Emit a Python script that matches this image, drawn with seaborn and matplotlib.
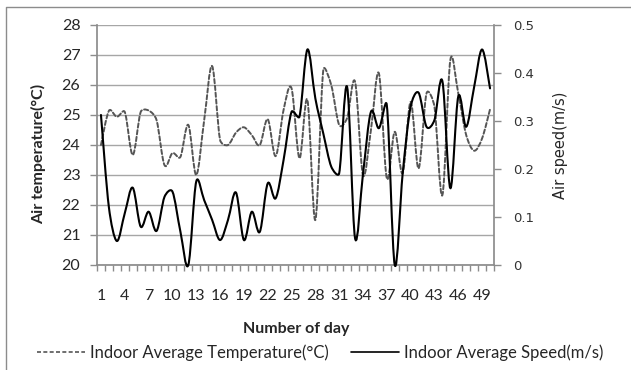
import numpy as np
import pandas as pd
import matplotlib
matplotlib.use("Agg")
import matplotlib.pyplot as plt
import seaborn as sns
from matplotlib.path import Path
from matplotlib.patches import PathPatch
from matplotlib.lines import Line2D
from matplotlib.transforms import IdentityTransform
from matplotlib.ticker import FixedLocator, NullFormatter

# ---- data ----
days = list(range(1, 51))
temperature = [24.0, 25.14, 24.94, 25.1, 23.67, 25.1, 25.15, 24.83, 23.33, 23.73,
               23.6, 24.67, 23.0, 24.83, 26.63, 24.17, 24.0, 24.41, 24.59, 24.33,
               24.0, 24.86, 23.63, 25.17, 25.89, 23.56, 25.5, 21.5, 26.5, 26.0,
               24.67, 24.9, 26.11, 23.0, 24.5, 26.39, 22.89, 24.44, 23.06, 25.44,
               23.22, 25.72, 25.28, 22.33, 26.83, 25.72, 24.33, 23.81, 24.22, 25.19]
speed = [0.3125, 0.12, 0.05, 0.108, 0.161, 0.08, 0.111, 0.071, 0.142, 0.153,
         0.07, 0.0, 0.174, 0.135, 0.094, 0.052, 0.094, 0.151, 0.052, 0.111,
         0.069, 0.17, 0.139, 0.219, 0.319, 0.309, 0.449, 0.347, 0.274, 0.205,
         0.191, 0.371, 0.056, 0.19, 0.319, 0.285, 0.333, 0.0, 0.191, 0.33,
         0.359, 0.288, 0.302, 0.383, 0.16, 0.351, 0.288, 0.371, 0.449, 0.368]
temp_ticks = [20, 21, 22, 23, 24, 25, 26, 27, 28]
speed_ticks = [0, 0.1, 0.2, 0.3, 0.4, 0.5]
speed_tick_labels = ["0", "0.1", "0.2", "0.3", "0.4", "0.5"]
temp_label = "Indoor Average Temperature(°C)"
speed_label = "Indoor Average Speed(m/s)"

df = pd.DataFrame({"idx": np.arange(len(days)), "day": days,
                   "temperature": temperature, "speed": speed})

sns.set_theme(style="white")
plt.rcParams["font.family"] = ["Lato", "DejaVu Sans"]

W, H = 631, 370
fig = plt.figure(figsize=(W / 100, H / 100), dpi=100)
ax = fig.add_axes([97 / W, 1 - 265 / H, (494 - 97) / W, (265 - 25) / H])
ax2 = ax.twinx()

GRID = "#a6a6a6"
AXC = "#8c8c8c"
DASH_C = "#555555"
DASH = (0, (2.2, 1.3))

sns.lineplot(data=df, x="idx", y="temperature", ax=ax, color=DASH_C, lw=1.4)
sns.lineplot(data=df, x="idx", y="speed", ax=ax2, color="black", lw=1.5)

ax.set_xlim(-0.5, len(days) - 0.5)
ax.set_ylim(20, 28)
ax2.set_ylim(0, 0.5)


def smooth(line, axis, **kw):
    # Excel-like smoothed line: Catmull-Rom Bezier arms, limited on short segments
    pts = axis.transData.transform(line.get_xydata())
    n = len(pts)
    verts = [pts[0]]
    codes = [Path.MOVETO]

    def arm(i, L):
        a = pts[max(i - 1, 0)]
        b = pts[min(i + 1, n - 1)]
        d = (b - a) / 6.0
        m = np.hypot(*d)
        lim = 0.45 * L
        return d * (lim / m) if m > lim else d

    for i in range(n - 1):
        p1, p2 = pts[i], pts[i + 1]
        L = np.hypot(*(p2 - p1))
        verts += [p1 + arm(i, L), p2 - arm(i + 1, L), p2]
        codes += [Path.CURVE4] * 3
    line.set_visible(False)
    patch = PathPatch(Path(verts, codes), fill=False, transform=IdentityTransform(),
                      capstyle="round", joinstyle="round", clip_on=False, **kw)
    axis.add_artist(patch)


smooth(ax.lines[0], ax, edgecolor=DASH_C, lw=1.4, linestyle=DASH, zorder=3)
smooth(ax2.lines[0], ax2, edgecolor="black", lw=1.5, zorder=4)

ax.set_yticks(temp_ticks)
ax.set_yticklabels([str(t) for t in temp_ticks])
ax2.set_yticks(speed_ticks)
ax2.set_yticklabels(speed_tick_labels, family="DejaVu Sans")

ax.set_xticks(df["idx"].values[::3])
ax.set_xticklabels([str(d) for d in days[::3]])
ax.xaxis.set_minor_locator(FixedLocator(np.arange(-0.5, len(days), 1.0)))
ax.xaxis.set_minor_formatter(NullFormatter())

ax.grid(axis="y", color=GRID, lw=1.0)
ax.grid(axis="x", visible=False)
ax2.grid(False)
ax.set_axisbelow(True)

for a in (ax, ax2):
    for s in a.spines.values():
        s.set_visible(False)
ax.spines["left"].set_visible(True)
ax.spines["left"].set_color(AXC)
ax.spines["bottom"].set_visible(True)
ax.spines["bottom"].set_color(AXC)
ax2.spines["right"].set_visible(True)
ax2.spines["right"].set_color(AXC)

ax.tick_params(axis="y", which="major", left=True, length=5, width=1, color=AXC,
               pad=7, labelsize=11.5, labelcolor="#262626")
ax.tick_params(axis="x", which="major", bottom=False, length=0, pad=17,
               labelsize=11.5, labelcolor="#262626")
ax.tick_params(axis="x", which="minor", bottom=True, length=4, width=1, color=AXC)
ax2.tick_params(axis="y", which="major", right=True, length=5, width=1, color=AXC,
                pad=9, labelsize=9.5, labelcolor="#333333")

ax.set_xlabel("")
ax.set_ylabel("")
ax2.set_ylabel("")

fig.text(39 / W, 1 - 154 / H, "Air temperature(°C)", rotation=90, ha="center",
         va="center", fontsize=11.5, fontweight="bold", color="#262626")
fig.text(561 / W, 1 - 145 / H, "Air speed(m/s)", rotation=90, ha="center",
         va="center", fontsize=10.5, family="DejaVu Sans", color="#262626")
fig.text(296 / W, 1 - 329 / H, "Number of day", ha="center", va="center",
         fontsize=11.5, fontweight="bold", color="#262626")

handles = [Line2D([], [], color=DASH_C, lw=1.2, linestyle=(0, (2.4, 1.4))),
           Line2D([], [], color="black", lw=1.2)]
fig.legend(handles, [temp_label, speed_label], loc="center",
           bbox_to_anchor=(320 / W, 1 - 353 / H), ncol=2, frameon=False,
           fontsize=12, handlelength=2.9, handletextpad=0.3,
           columnspacing=1.3, labelcolor="#262626")

# chart area border (left and top edges visible)
fig.add_artist(Line2D([6 / W, 6 / W, 1.0], [0.0, 1 - 7 / H, 1 - 7 / H],
                      transform=fig.transFigure, color="#8c8c8c", lw=1.0))

fig.savefig("out.png", dpi=100)
